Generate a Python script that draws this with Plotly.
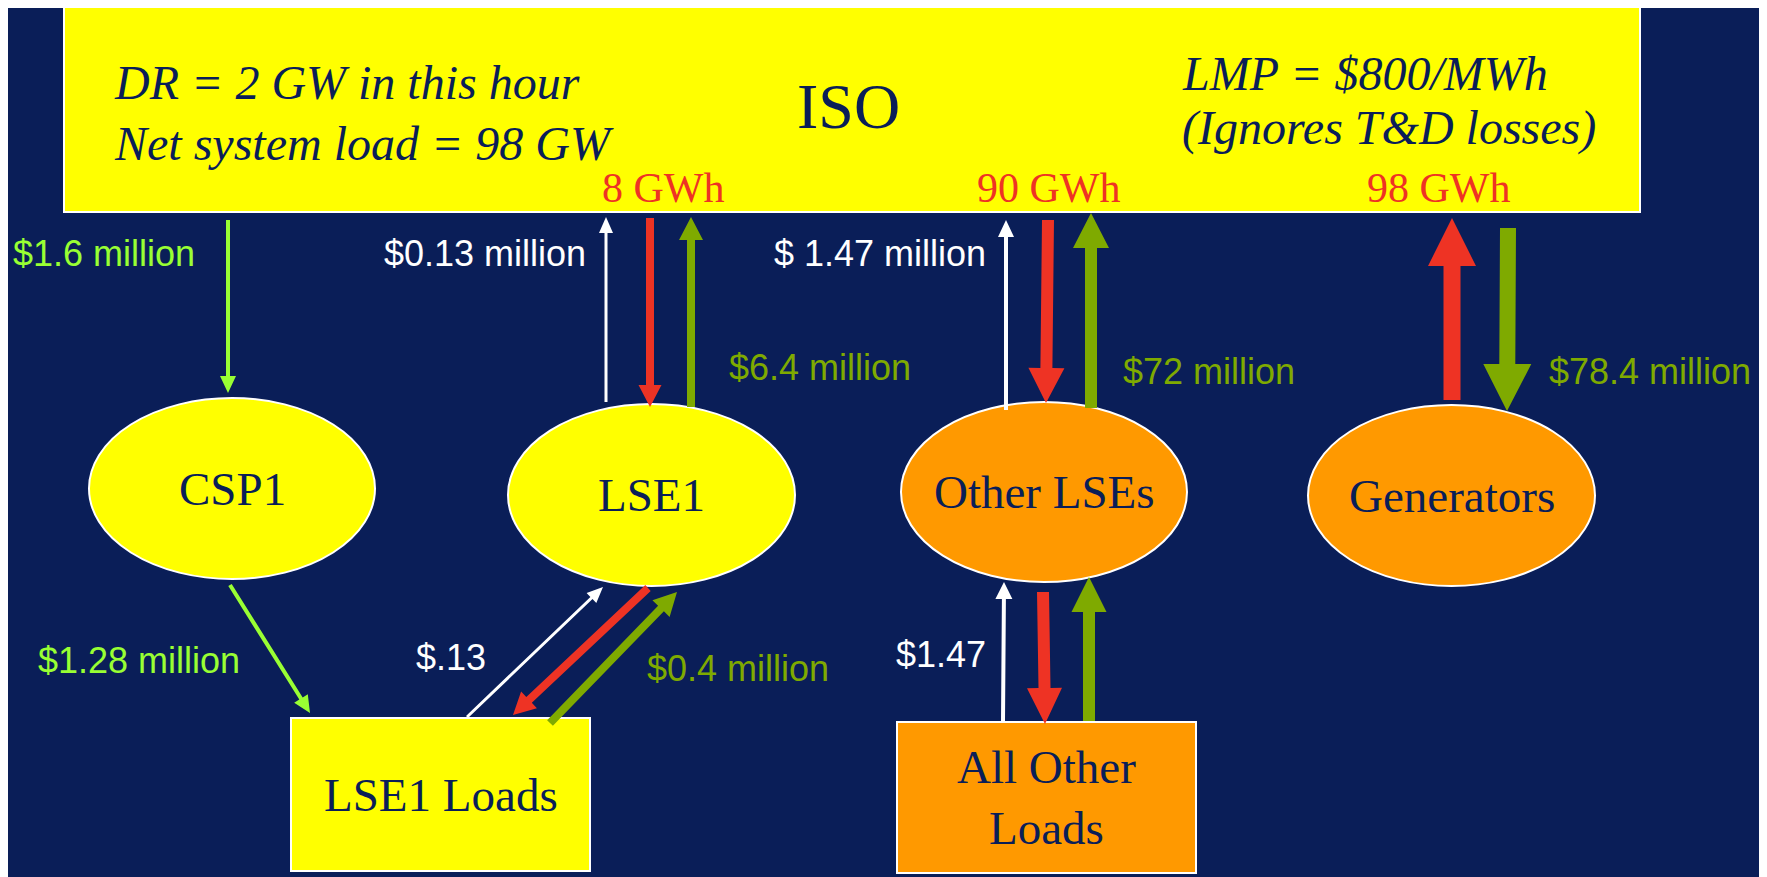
import plotly.graph_objects as go

# ---------------- data (labels / values) ----------------
iso_title = "ISO"
iso_notes_left = ["DR = 2 GW in this hour", "Net system load = 98 GW"]
iso_notes_right = ["LMP = $800/MWh", "(Ignores T&D losses)"]
energy_labels = ["8 GWh", "90 GWh", "98 GWh"]
ellipse_nodes = ["CSP1", "LSE1", "Other LSEs", "Generators"]
ellipse_fill = ["yellow", "yellow", "orange", "orange"]
box_nodes = ["LSE1 Loads", "All Other<br>Loads"]
box_fill = ["yellow", "orange"]
payment_labels = ["$1.6 million", "$0.13 million", "$6.4 million", "$ 1.47 million",
                  "$72 million", "$78.4 million", "$1.28 million", "$.13",
                  "$0.4 million", "$1.47"]
payment_kind = ["dr", "white", "olive", "white", "olive", "olive", "dr", "white", "olive", "white"]

# ---------------- layout / style ----------------
W, H = 1767, 877
OFF = 8  # page body margin; the figure starts at (8, 8) in the window
BG = "#0a1e58"
NAVY = "#0a1e58"
COL = {"yellow": "#ffff00", "orange": "#ff9900", "red": "#ee3324",
       "olive": "#7faa00", "dr": "#99ff33", "white": "#ffffff"}
SERIF = "Liberation Serif, Times New Roman, serif"
SANS = "Liberation Sans, Arial, sans-serif"

iso_box = (64, 6, 1640, 212)
ellipse_pos = [(89, 398, 375, 579), (508, 404, 795, 586), (901, 402, 1187, 582), (1308, 405, 1595, 586)]
ellipse_font = [47, 47, 47, 47]
box_pos = [(291, 718, 590, 871), (897, 722, 1196, 873)]
energy_pos = [(663, 188), (1048, 188), (1438, 188)]
payment_pos = [(11, 253, "left"), (588, 253, "right"), (727, 367, "left"), (988, 253, "right"),
               (1121, 371, "left"), (1547, 371, "left"), (36, 660, "left"), (451, 657, "center"),
               (645, 668, "left"), (988, 654, "right")]

# arrows: (tail, tip, color, shaft width, head width, head length)
arrows = [
    ((228, 220), (228, 393), "dr", 4, 16, 17),
    ((606, 402), (606, 217), "white", 3, 14, 16),
    ((650, 218), (650, 407), "red", 8, 23, 22),
    ((691, 407), (691, 217), "olive", 8, 24, 23),
    ((1006, 410), (1006, 220), "white", 4, 16, 17),
    ((1048, 220), (1046, 403), "red", 12, 36, 35),
    ((1091, 408), (1091, 213), "olive", 12, 36, 35),
    ((1452, 400), (1452, 218), "red", 17, 48, 48),
    ((1508, 228), (1507, 411), "olive", 16, 48, 47),
    ((230, 585), (310, 713), "dr", 4, 16, 17),
    ((467, 717), (603, 587), "white", 3, 14, 16),
    ((648, 588), (513, 715), "red", 8, 23, 22),
    ((550, 723), (677, 592), "olive", 8, 24, 23),
    ((1003, 722), (1004, 582), "white", 4, 17, 17),
    ((1043, 592), (1045, 724), "red", 12, 35, 36),
    ((1089, 721), (1089, 577), "olive", 12, 35, 35),
]


def arrow_path(tail, tip, sw, hw, hl):
    (x0, y0), (x1, y1) = tail, tip
    dx, dy = x1 - x0, y1 - y0
    L = (dx * dx + dy * dy) ** 0.5
    ux, uy = dx / L, dy / L
    px, py = -uy, ux
    bx, by = x1 - ux * hl, y1 - uy * hl
    pts = [
        (x0 + px * sw / 2, y0 + py * sw / 2),
        (bx + px * sw / 2, by + py * sw / 2),
        (bx + px * hw / 2, by + py * hw / 2),
        (x1, y1),
        (bx - px * hw / 2, by - py * hw / 2),
        (bx - px * sw / 2, by - py * sw / 2),
        (x0 - px * sw / 2, y0 - py * sw / 2),
    ]
    return "M " + " L ".join(f"{x:.1f},{y:.1f}" for x, y in pts) + " Z"


shapes = []
annotations = []

# ISO box
shapes.append(dict(type="rect", x0=iso_box[0], y0=iso_box[1], x1=iso_box[2], y1=iso_box[3],
                   fillcolor=COL["yellow"], line=dict(color="white", width=2), layer="below"))
# ellipses
for (x0, y0, x1, y1), f in zip(ellipse_pos, ellipse_fill):
    shapes.append(dict(type="circle", x0=x0, y0=y0, x1=x1, y1=y1,
                       fillcolor=COL[f], line=dict(color="white", width=2), layer="below"))
# boxes
for (x0, y0, x1, y1), f in zip(box_pos, box_fill):
    shapes.append(dict(type="rect", x0=x0, y0=y0, x1=x1, y1=y1,
                       fillcolor=COL[f], line=dict(color="white", width=2), layer="below"))
# arrows
for tail, tip, c, sw, hw, hl in arrows:
    shapes.append(dict(type="path", path=arrow_path(tail, tip, sw, hw, hl),
                       fillcolor=COL[c], line=dict(width=0), layer="above"))


def ann(x, y, text, size, color, family, xanchor="center", italic=False):
    annotations.append(dict(x=x, y=y, xref="x", yref="y", text=(f"<i>{text}</i>" if italic else text),
                            showarrow=False, xanchor=xanchor, yanchor="middle",
                            font=dict(size=size, color=color, family=family)))


# ISO texts
ann(848, 106, iso_title, 64, NAVY, SERIF)
ann(112, 82, iso_notes_left[0], 48, NAVY, SERIF, "left", True)
ann(112, 143, iso_notes_left[1], 48, NAVY, SERIF, "left", True)
ann(1180, 73, iso_notes_right[0], 48, NAVY, SERIF, "left", True)
ann(1180, 128, iso_notes_right[1], 48, NAVY, SERIF, "left", True)
for (x, y), t in zip(energy_pos, energy_labels):
    ann(x, y, t, 42, COL["red"], SERIF)

# node labels
for (x0, y0, x1, y1), t, fs in zip(ellipse_pos, ellipse_nodes, ellipse_font):
    ann((x0 + x1) / 2, (y0 + y1) / 2, t, fs, NAVY, SERIF)
for (x0, y0, x1, y1), t in zip(box_pos, box_nodes):
    ann((x0 + x1) / 2, (y0 + y1) / 2, t, 47, NAVY, SERIF)

# payments
for (x, y, a), t, k in zip(payment_pos, payment_labels, payment_kind):
    ann(x, y, t, 36, COL[k], SANS, a)

fig = go.Figure()
fig.update_layout(
    width=W - OFF, height=H - OFF, margin=dict(l=0, r=0, t=0, b=0),
    paper_bgcolor=BG, plot_bgcolor=BG, showlegend=False,
    xaxis=dict(range=[OFF, W], visible=False, fixedrange=True),
    yaxis=dict(range=[H, OFF], visible=False, fixedrange=True),
    shapes=shapes, annotations=annotations,
)
fig.write_html("out.html", config={"displayModeBar": False})
